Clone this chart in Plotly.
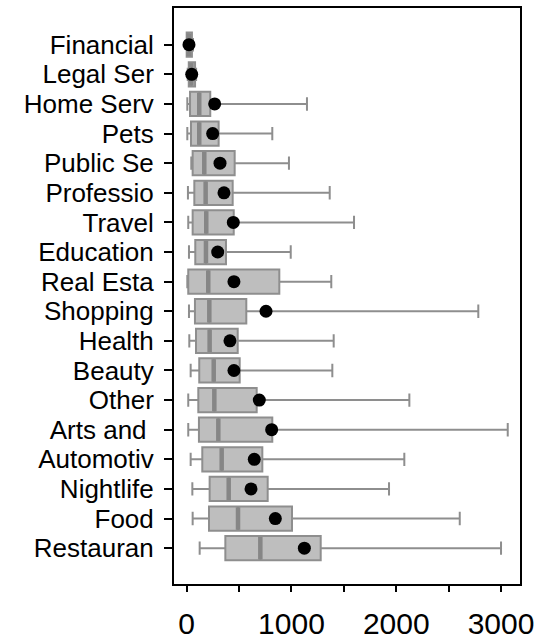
import plotly.graph_objects as go

categories = ["Financial", "Legal Ser", "Home Serv", "Pets", "Public Se", "Professio",
              "Travel", "Education", "Real Esta", "Shopping", "Health", "Beauty",
              "Other", "Arts and ", "Automotiv", "Nightlife", "Food", "Restauran"]

lower_whisker = [0, 10, 6, 6, 44, 12, 15, 22, 6, 22, 25, 38, 15, 15, 38, 54, 57, 124]
q1_values = [0, 20, 32, 41, 57, 73, 57, 82, 15, 79, 89, 120, 111, 117, 149, 219, 213, 369]
median_values = [20, 45, 120, 120, 168, 181, 187, 184, 206, 216, 219, 258, 264, 302, 334, 401, 490, 703]
q3_values = [50, 80, 225, 305, 458, 439, 449, 375, 884, 569, 487, 506, 668, 817, 722, 773, 1005, 1279]
upper_whisker = [60, 90, 1148, 817, 976, 1365, 1597, 993, 1380, 2783, 1403, 1390, 2125, 3064, 2077, 1931, 2606, 3000]
mean_values = [22, 48, 267, 248, 318, 356, 445, 296, 451, 757, 413, 451, 693, 811, 645, 614, 846, 1123]

x_tick_values = [0, 500, 1000, 1500, 2000, 2500, 3000]
x_tick_labels = ["0", "", "1000", "", "2000", "", "3000"]

positions = list(range(len(categories)))
BOX_WIDTH = 0.82
FILL = "#bebebe"
EDGE = "#8e8e8e"
MEDIAN = "#868686"

fig = go.Figure()

fig.add_trace(go.Box(
    y=positions,
    q1=q1_values,
    median=median_values,
    q3=q3_values,
    lowerfence=lower_whisker,
    upperfence=upper_whisker,
    orientation="h",
    width=BOX_WIDTH,
    whiskerwidth=0.55,
    fillcolor=FILL,
    line=dict(color=EDGE, width=2),
    boxpoints=False,
    showlegend=False,
    hoverinfo="skip",
))

# thick median bars drawn over each box
med_x, med_y = [], []
half = BOX_WIDTH / 2 - 0.03
for pos, m in zip(positions, median_values):
    med_x += [m, m, None]
    med_y += [pos - half, pos + half, None]
fig.add_trace(go.Scatter(
    x=med_x, y=med_y, mode="lines",
    line=dict(color=MEDIAN, width=4.5),
    showlegend=False, hoverinfo="skip",
))

# mean markers
fig.add_trace(go.Scatter(
    x=mean_values, y=positions, mode="markers",
    marker=dict(color="black", size=13, line=dict(width=0)),
    showlegend=False, hoverinfo="skip",
))

fig.update_layout(
    width=539, height=644,
    margin=dict(l=174, r=19, t=8, b=60),
    paper_bgcolor="white", plot_bgcolor="white",
    font=dict(family="Liberation Sans, Arial, sans-serif", color="black"),
    xaxis=dict(
        range=[-121, 3181],
        tickvals=x_tick_values, ticktext=x_tick_labels,
        ticks="outside", ticklen=6, tickwidth=1.5, tickcolor="black",
        tickfont=dict(size=30), ticklabelstandoff=6, automargin=False,
        showgrid=False, zeroline=False,
        showline=True, linecolor="black", linewidth=2, mirror=True,
    ),
    yaxis=dict(
        range=[18.21, -1.24],
        tickvals=positions, ticktext=categories,
        ticks="outside", ticklen=8, tickwidth=1.5, tickcolor="black",
        tickfont=dict(size=26), ticklabelstandoff=5, automargin=False,
        showgrid=False, zeroline=False,
        showline=True, linecolor="black", linewidth=2, mirror=True,
    ),
)

fig.write_html("out.html")
